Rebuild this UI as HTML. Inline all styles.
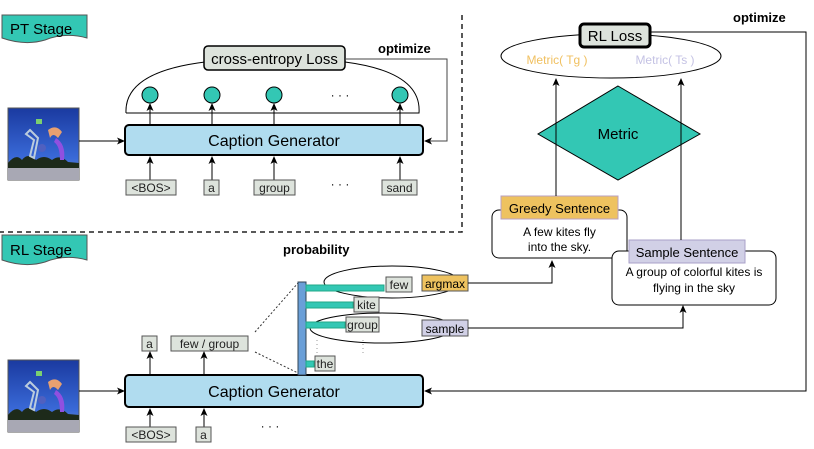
<!DOCTYPE html>
<html><head><meta charset="utf-8"><style>
html,body{margin:0;padding:0;background:#fff;}
svg{display:block;font-family:"Liberation Sans",sans-serif;}
</style></head><body>
<svg width="814" height="449" viewBox="0 0 814 449" xmlns="http://www.w3.org/2000/svg">
<defs>
<marker id="ar" markerWidth="8" markerHeight="8" refX="7" refY="4" orient="auto" markerUnits="userSpaceOnUse"><path d="M0,0.5 L8,4 L0,7.5 L2,4 Z" fill="#000"/></marker>
<linearGradient id="sky" x1="0" y1="0" x2="0" y2="1"><stop offset="0" stop-color="#1a3aa0"/><stop offset="0.7" stop-color="#3a6ad8"/><stop offset="1" stop-color="#7a8fc0"/></linearGradient>
<g id="img">
<rect x="0" y="0" width="71" height="72" fill="url(#sky)" stroke="#555"/>
<rect x="0" y="55" width="71" height="17" fill="#a8a8b4"/>
<path d="M0,55 Q8,45 14,52 Q20,44 28,52 Q36,46 44,52 Q52,46 60,54 L71,55 L71,60 L0,60Z" fill="#1d2a1a"/>
<rect x="28" y="11" width="6" height="5" fill="#7bd070"/>
<path d="M40,22 Q48,16 54,24 L50,30 Q45,24 42,30Z" fill="#e8a070"/>
<path d="M48,30 Q58,36 56,52 L52,52 Q52,38 46,34Z" fill="#9050e0"/>
<path d="M22,22 L30,30 L26,50 L22,48 L26,32 L18,26Z" fill="none" stroke="#bcd" stroke-width="2"/>
<circle cx="34" cy="40" r="4" fill="#5060c0"/>
</g>
</defs>

<!-- PT stage tag -->
<path d="M2,15 L87,15 L87,38 Q65,32 45,40 Q25,46 2,38 Z" fill="#33c7b4" stroke="#555"/>
<text x="10" y="34" font-size="15">PT Stage</text>
<!-- dashed separator -->
<path d="M462,15 L462,232 L0,232" fill="none" stroke="#222" stroke-width="1.5" stroke-dasharray="5,4"/>

<!-- PT arc & loss -->
<path d="M126,113 Q124,72 205,62 M345,62 Q422,72 419,113 L126,113" fill="none" stroke="#000"/>
<rect x="204" y="46" width="141" height="24" rx="4" fill="#dde3dc" stroke="#000" stroke-width="1.5"/>
<text x="274.5" y="64" font-size="15" text-anchor="middle">cross-entropy Loss</text>
<text x="378" y="53" font-size="13" font-weight="bold">optimize</text>
<path d="M345,59 L447,59 L447,141 L425,141" fill="none" stroke="#444" marker-end="url(#ar)"/>
<g fill="#33c7b4" stroke="#000">
<circle cx="150" cy="95" r="8"/><circle cx="212" cy="95" r="8"/><circle cx="274" cy="95" r="8"/><circle cx="400" cy="95" r="8"/>
</g>
<text x="340" y="99" font-size="12" text-anchor="middle">· · ·</text>
<g stroke="#000" marker-end="url(#ar)">
<line x1="150" y1="125" x2="150" y2="104"/><line x1="212" y1="125" x2="212" y2="104"/><line x1="274" y1="125" x2="274" y2="104"/><line x1="400" y1="125" x2="400" y2="104"/>
</g>
<rect x="125" y="125" width="298" height="30" rx="4" fill="#b0dcef" stroke="#000" stroke-width="2"/>
<text x="274" y="146" font-size="16" text-anchor="middle">Caption  Generator</text>
<use href="#img" x="8" y="108"/>
<line x1="79" y1="141" x2="124" y2="141" stroke="#000" marker-end="url(#ar)"/>
<g stroke="#000" marker-end="url(#ar)">
<line x1="150" y1="180" x2="150" y2="157"/><line x1="212" y1="180" x2="212" y2="157"/><line x1="274" y1="180" x2="274" y2="157"/><line x1="400" y1="180" x2="400" y2="157"/>
</g>
<g fill="#dde3dc" stroke="#555">
<rect x="126" y="180" width="50" height="15"/><rect x="204" y="180" width="15" height="15"/><rect x="254" y="180" width="41" height="15"/><rect x="382" y="180" width="35" height="15"/>
</g>
<g font-size="12" text-anchor="middle" fill="#222">
<text x="151" y="192">&lt;BOS&gt;</text><text x="211.5" y="192">a</text><text x="274.5" y="192">group</text><text x="399.5" y="192">sand</text>
</g>
<text x="340" y="188" font-size="12" text-anchor="middle">· · ·</text>

<!-- RL stage tag -->
<path d="M2,235 L87,235 L87,260 Q65,254 45,262 Q25,268 2,260 Z" fill="#33c7b4" stroke="#555"/>
<text x="10" y="255" font-size="15">RL Stage</text>
<text x="283" y="254" font-size="13" font-weight="bold">probability</text>

<!-- RL caption generator -->
<use href="#img" x="8" y="360"/>
<line x1="79" y1="391" x2="124" y2="391" stroke="#000" marker-end="url(#ar)"/>
<rect x="125" y="375" width="298" height="32" rx="4" fill="#b0dcef" stroke="#000" stroke-width="2"/>
<text x="274" y="397" font-size="16" text-anchor="middle">Caption  Generator</text>
<g stroke="#000" marker-end="url(#ar)">
<line x1="150" y1="427" x2="150" y2="409"/><line x1="204" y1="427" x2="204" y2="409"/>
<line x1="150" y1="375" x2="150" y2="352"/><line x1="204" y1="375" x2="204" y2="352"/>
</g>
<g fill="#dde3dc" stroke="#555">
<rect x="126" y="427" width="50" height="15"/><rect x="196" y="427" width="15" height="15"/>
<rect x="142" y="336" width="15" height="15"/><rect x="171" y="336" width="77" height="15"/>
</g>
<g font-size="12" text-anchor="middle" fill="#222">
<text x="151" y="439">&lt;BOS&gt;</text><text x="203.5" y="439">a</text>
<text x="149.5" y="348">a</text><text x="209.5" y="348">few / group</text>
</g>
<text x="270" y="430" font-size="12" text-anchor="middle">· · ·</text>
<path d="M255,332 L298,283 M255,352 L298,373" stroke="#333" stroke-dasharray="2,2" fill="none"/>

<!-- ellipses -->
<ellipse cx="392" cy="282" rx="68" ry="16" fill="none" stroke="#000"/>
<ellipse cx="382" cy="328" rx="72" ry="15" fill="none" stroke="#000"/>
<!-- bars -->
<rect x="298" y="282" width="8" height="93" fill="#6a9fd8" stroke="#345"/>
<g fill="#33c7b4" stroke="#2a8">
<rect x="306" y="285" width="78" height="6"/><rect x="306" y="302" width="47" height="6"/><rect x="306" y="322" width="39" height="6"/><rect x="306" y="361" width="8" height="6"/>
</g>
<g fill="#dde3dc" stroke="#555">
<rect x="386" y="277" width="26" height="15"/><rect x="354" y="297" width="25" height="15"/><rect x="346" y="317" width="33" height="15"/><rect x="315" y="356" width="20" height="15"/>
</g>
<g font-size="12" text-anchor="middle" fill="#222">
<text x="399" y="289">few</text><text x="366.5" y="309">kite</text><text x="362.5" y="329">group</text><text x="325" y="368">the</text>
</g>
<path d="M317,340 L317,353 M363,340 L363,353" stroke="#999" stroke-dasharray="1,3"/>
<rect x="422" y="275" width="46" height="16" fill="#eec25f" stroke="#555"/>
<text x="445" y="288" font-size="12" text-anchor="middle">argmax</text>
<rect x="422" y="320" width="46" height="16" fill="#d1d0e6" stroke="#555"/>
<text x="445" y="333" font-size="12" text-anchor="middle">sample</text>
<path d="M468,283 L552,283 L552,261" fill="none" stroke="#000" marker-end="url(#ar)"/>
<path d="M468,328 L683,328 L683,306" fill="none" stroke="#000" marker-end="url(#ar)"/>

<!-- Sentences -->
<rect x="492" y="210" width="135" height="48" rx="7" fill="#fff" stroke="#000"/>
<rect x="501" y="196" width="117" height="23" fill="#eec25f" stroke="#b9a0c0"/>
<text x="559.5" y="213" font-size="13" text-anchor="middle">Greedy Sentence</text>
<text x="559.5" y="236" font-size="12" text-anchor="middle">A few kites fly</text>
<text x="559.5" y="251" font-size="12" text-anchor="middle">into the sky.</text>
<rect x="612" y="251" width="164" height="54" rx="7" fill="#fff" stroke="#000"/>
<rect x="629" y="240" width="116" height="23" fill="#d1d0e6" stroke="#a9a0c8"/>
<text x="687" y="257" font-size="13" text-anchor="middle">Sample Sentence</text>
<text x="694" y="276" font-size="12" text-anchor="middle">A group of colorful kites is</text>
<text x="694" y="292" font-size="12" text-anchor="middle">flying in the sky</text>

<!-- Metric -->
<path d="M618,86 L700,134 L618,180 L538,134 Z" fill="#33c7b4" stroke="#000"/>
<text x="618" y="139" font-size="15" text-anchor="middle">Metric</text>
<line x1="556" y1="196" x2="556" y2="79" stroke="#000" marker-end="url(#ar)"/>
<line x1="681" y1="240" x2="681" y2="79" stroke="#000" marker-end="url(#ar)"/>
<ellipse cx="611" cy="56" rx="110" ry="22" fill="#fff" stroke="#000"/>
<text x="557" y="64" font-size="12" text-anchor="middle" fill="#f0c060">Metric( Tg )</text>
<text x="665" y="64" font-size="12" text-anchor="middle" fill="#c4c2e4">Metric( Ts )</text>
<rect x="580" y="24" width="70" height="23" rx="4" fill="#dde3dc" stroke="#000" stroke-width="3"/>
<text x="615" y="41" font-size="15" text-anchor="middle">RL Loss</text>
<text x="733" y="22" font-size="13" font-weight="bold">optimize</text>
<path d="M650,32 L806,32 L806,391 L425,391" fill="none" stroke="#000" marker-end="url(#ar)"/>
</svg>
</body></html>
